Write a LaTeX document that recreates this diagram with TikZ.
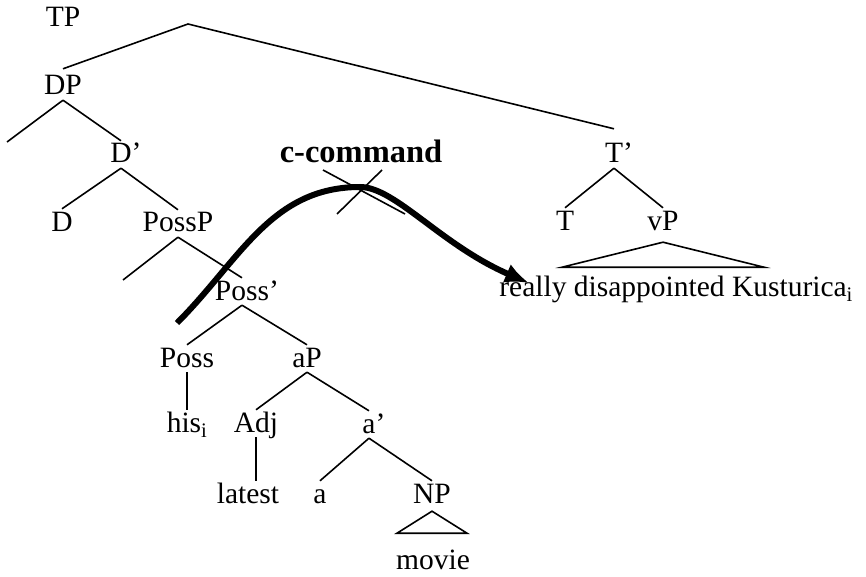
\documentclass[tikz,border=0pt]{standalone}
\usepackage{fontspec}
\setmainfont{Liberation Serif}
\usetikzlibrary{arrows.meta}
\newcommand{\treefont}{\fontsize{29.5}{34}\selectfont}
\tikzset{
	every node/.style={font=\treefont, anchor=base, inner sep=2pt, text height=20pt, text depth=3pt}, % every label sits on its baseline
	branch/.style={line width=1.6pt}, % the lines of the tree
	roof/.style={line width=1.6pt}, % triangles over unanalysed phrases
	ccommand/.style={line width=6pt, -{Latex[length=24pt,width=20pt]}}, % the bold c-command arrow
}

\begin{document}
\begin{tikzpicture}[x=1pt, y=-1pt]
	\useasboundingbox (0,0) rectangle (866,577);
	% left branch
			\node (TP) at (63,27) {TP};
			\node (DP) at (63,95) {DP};
			\node (Dbar) at (121,163) {D\rlap{’}};
			\node (D) at (62,231) {D};
			\node (PossP) at (178,232) {PossP};
			\node (Possbar) at (242,300) {Poss\rlap{’}};
			\node (Poss) at (187,367) {Poss};
			\node (aP) at (307,367) {aP};
			\node (his) at (184,432) {his\rlap{\textsubscript{i}}};
			\node (Adj) at (256,432) {Adj};
			\node (abar) at (369,433) {a\rlap{’}};
			\node (latest) at (248,503) {latest};
			\node (a) at (320,503) {a};
			\node (NP) at (432,503) {NP};
			\node (movie) at (433,569) {movie};
	% right branch
			\node (Tbar) at (614,163) {T\rlap{’}};
			\node (T) at (565,230) {T};
			\node (vP) at (663,230) {vP};
			\node (vPtext) at (673,296) {really disappointed Kusturica\rlap{\textsubscript{i}}};
			\node[font=\fontsize{32.5}{36}\selectfont\bfseries] (cc) at (361,163) {c-command};
			\coordinate (tpjoin) at (188,24);
			\coordinate (dpleft) at (7,142);
			\coordinate (posspleft) at (123,280);
			\coordinate (arcstart) at (177,323);
			\coordinate (arctop) at (360,187);
			\coordinate (arcend) at (529,283);
			\coordinate (blocked) at (361,191);
	\draw[branch] 	([yshift=4pt]DP.north) -- (tpjoin) -- ([yshift=12pt]Tbar.north);
	\draw[branch] 	(DP.south) edge (dpleft) edge (Dbar.north)
			(Dbar.south) edge (D.north) edge (PossP.north)
			(PossP.south) edge (posspleft) edge (Possbar.north)
			(Possbar.south) edge (Poss.north) edge (aP.north)
			(aP.south) edge (Adj.north) edge (abar.north)
			(abar.south) edge (a.north) edge (NP.north)
			(Tbar.south) edge (T.north) edge (vP.north);
	\draw[branch] 	(Poss.south) -- (Poss.south |- his.north)
			(Adj.south) -- (Adj.south |- latest.north);
	\draw[roof] 	([yshift=-3pt]NP.south) -- ++(-35,22) -- ++(70,0) -- cycle;
	\draw[roof] 	([yshift=-7pt]vP.south) -- ++(-101,25) -- ++(202,0) -- cycle;
	% the arrow and the cross over it
	\draw[ccommand] (arcstart) .. controls +(63,-63) and +(-89,0) .. (arctop)
			.. controls +(35,0) and +(-88,-38) .. (arcend);
	\draw[branch] 	(blocked) ++(-38,-21) -- ++(82,44)
			(blocked) ++(21,-21) -- ++(-45,44);
	\end{tikzpicture}
\end{document}
